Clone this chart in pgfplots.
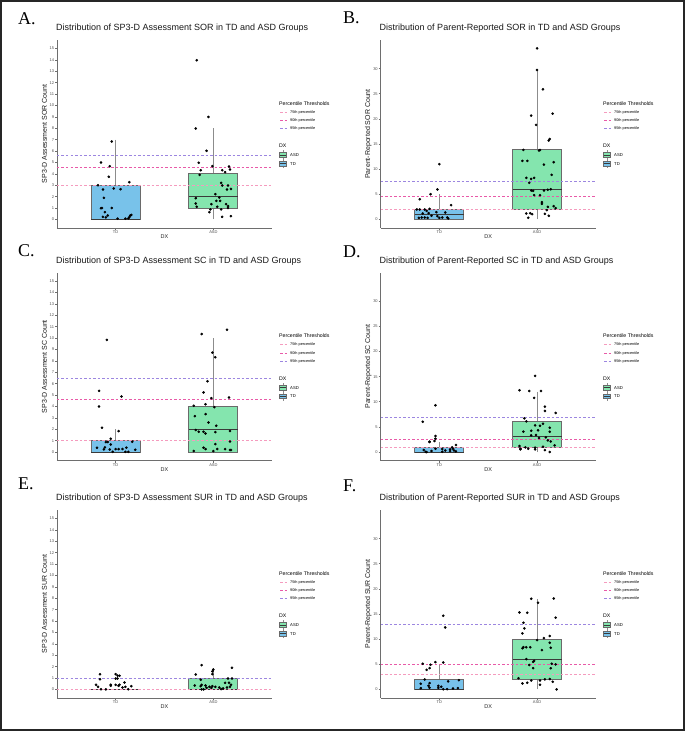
\documentclass[border=0pt]{standalone}
\usepackage{pgfplots}
\pgfplotsset{compat=1.18}
\usepgfplotslibrary{statistics}
\usepackage{fontspec}
\setmainfont{Liberation Sans}
\newfontfamily\letterfont{Liberation Serif}
\definecolor{tdblue}{HTML}{78C2EA}
\definecolor{asdgreen}{HTML}{84E5AE}
\definecolor{c75}{HTML}{F59BBE}
\definecolor{c90}{HTML}{E85AA8}
\definecolor{c95}{HTML}{9C86E0}
\definecolor{axgray}{HTML}{6E6E6E}
\definecolor{boxgray}{HTML}{6A6A6A}
\definecolor{whiskgray}{HTML}{8C8C8C}
\definecolor{medgray}{HTML}{3A3A3A}
\definecolor{tickgray}{HTML}{4D4D4D}
\tikzset{
  l75/.style={draw=c75, line width=0.8pt, dash pattern=on 2.5pt off 2pt},
  l90/.style={draw=c90, line width=0.8pt, dash pattern=on 2.5pt off 2pt},
  l95/.style={draw=c95, line width=0.8pt, dash pattern=on 2.5pt off 2pt},
}
\pgfplotsset{
  panel/.style={
    scale only axis, width=215pt, height=188pt, anchor=south west, clip=false,
    xmin=0.4, xmax=2.6,
    axis x line*=bottom, axis y line*=left,
    axis line style={draw=axgray, line width=0.9pt, -},
    xtick={1,2}, xticklabels={TD,ASD},
    major tick length=2pt, tick align=outside,
    every tick/.style={draw=axgray, line width=0.6pt},
    ticklabel style={font=\fontsize{4}{5}\selectfont, text=tickgray, inner sep=0.8pt},
    /pgf/number format/assume math mode=true,
    xlabel={DX},
    xlabel style={at={(axis description cs:0.5,0)}, anchor=center, yshift=-8.7pt, font=\fontsize{5.5}{6}\selectfont, text=black!85},
    ylabel style={at={(axis description cs:-0.058,0.5)}, anchor=center, font=\fontsize{7}{8}\selectfont, text=black!90},
    title style={at={(axis description cs:0,1)}, anchor=base west, xshift=-4.5pt, yshift=3.2pt, font=\fontsize{9}{10}\selectfont, text=black!90},
    boxplot/draw direction=y,
    boxplot/every box/.style={draw=boxgray, line width=0.9pt},
    boxplot/every whisker/.style={draw=whiskgray, line width=0.9pt},
    boxplot/every median/.style={draw=medgray, line width=1pt},
  },
  sp3/.style={ymin=-0.75, ymax=15.75, ytick={0,1,...,15}},
  par/.style={ymin=-1.7, ymax=35.7, ytick={0,5,...,30}},
  pts/.style={only marks, mark=*, mark size=1.1pt, mark options={draw=black, fill=black}},
  bx/.style={boxplot prepared={draw direction=y, box extend=0.5, whisker extend=0, #1}},
}
\newcommand\pctlegend[2]{%
  \begin{scope}[shift={(#1pt,#2pt)}]
    \node[anchor=west, inner sep=0, font=\fontsize{5.2}{6}\selectfont] at (0,-63.3) {Percentile Thresholds};
    \draw[l75] (1,-72.3) -- (8,-72.3);
    \draw[l90] (1,-80.7) -- (8,-80.7);
    \draw[l95] (1,-88.7) -- (8,-88.7);
    \node[anchor=west, inner sep=0, font=\fontsize{3.8}{4.5}\selectfont] at (11,-72.3) {75th percentile};
    \node[anchor=west, inner sep=0, font=\fontsize{3.8}{4.5}\selectfont] at (11,-80.7) {90th percentile};
    \node[anchor=west, inner sep=0, font=\fontsize{3.8}{4.5}\selectfont] at (11,-88.7) {95th percentile};
    \node[anchor=west, inner sep=0, font=\fontsize{5.2}{6}\selectfont] at (0,-105.7) {DX};
    \draw[whiskgray, line width=0.6pt] (3.8,-110.5) -- (3.8,-119.5);
    \filldraw[fill=asdgreen, draw=boxgray, line width=0.6pt] (0.5,-117.4) rectangle (7.1,-112.6);
    \draw[medgray, line width=0.6pt] (0.5,-115) -- (7.1,-115);
    \draw[whiskgray, line width=0.6pt] (3.8,-119.2) -- (3.8,-128.2);
    \filldraw[fill=tdblue, draw=boxgray, line width=0.6pt] (0.5,-126.1) rectangle (7.1,-121.3);
    \draw[medgray, line width=0.6pt] (0.5,-123.7) -- (7.1,-123.7);
    \node[anchor=west, inner sep=0, font=\fontsize{4.2}{5}\selectfont] at (11,-115) {ASD};
    \node[anchor=west, inner sep=0, font=\fontsize{4.2}{5}\selectfont] at (11,-123.7) {TD};
  \end{scope}}
\begin{document}
\begin{tikzpicture}[x=1pt,y=1pt]
\useasboundingbox (0,0) rectangle (685,731);
\fill[white] (0,0) rectangle (685,731);
\draw[line width=1.6pt, black!85] (0.8,0.8) rectangle (684.2,730.2);
\node[anchor=base west, font=\letterfont\fontsize{18}{18}\selectfont, inner sep=0] at (18,706) {A.};
\node[anchor=base west, font=\letterfont\fontsize{18}{18}\selectfont, inner sep=0] at (343,707) {B.};
\node[anchor=base west, font=\letterfont\fontsize{18}{18}\selectfont, inner sep=0] at (18,474) {C.};
\node[anchor=base west, font=\letterfont\fontsize{18}{18}\selectfont, inner sep=0] at (343,473.5) {D.};
\node[anchor=base west, font=\letterfont\fontsize{18}{18}\selectfont, inner sep=0] at (18,241) {E.};
\node[anchor=base west, font=\letterfont\fontsize{18}{18}\selectfont, inner sep=0] at (343,239) {F.};

% ---------- A ----------
\begin{axis}[panel, sp3, at={(57pt,503pt)},
  title={Distribution of SP3-D Assessment SOR in TD and ASD Groups},
  ylabel={SP3-D Assessment SOR Count}]
\addplot[bx={lower whisker=0, lower quartile=0, median=0, upper quartile=3, upper whisker=7, draw position=1}, fill=tdblue] coordinates {};
\addplot[bx={lower whisker=0, lower quartile=1, median=2, upper quartile=4, upper whisker=8, draw position=2}, fill=asdgreen] coordinates {};
\addplot[l75] coordinates {(0.4,3.0) (2.6,3.0)};
\addplot[l90] coordinates {(0.4,4.6) (2.6,4.6)};
\addplot[l95] coordinates {(0.4,5.6) (2.6,5.6)};
\addplot[pts] coordinates {(0.96,6.84) (0.85,5.0) (0.94,4.67) (0.93,3.74) (0.82,3.0) (1.14,3.27) (0.87,2.63) (0.98,2.72) (1.05,2.66) (0.88,1.9) (0.85,0.99) (0.86,1.0) (0.96,1.0) (0.89,0.64) (0.87,0.23) (0.90,0.18) (0.92,0.35) (1.02,0.07) (1.10,0.07) (1.14,0.2) (1.15,0.35) (1.16,0.4) (1.13,0.1)};
\addplot[pts] coordinates {(1.83,13.97) (1.95,9.0) (1.82,7.98) (1.93,6.02) (1.85,4.97) (1.99,4.68) (2.16,4.65) (1.87,4.32) (2.09,4.32) (2.12,4.15) (2.17,4.38) (1.86,3.91) (2.08,3.21) (2.09,2.98) (2.15,2.98) (2.14,2.63) (2.18,2.68) (2.02,2.22) (1.82,1.87) (2.06,1.93) (2.03,1.63) (2.07,1.63) (1.82,1.4) (1.83,1.11) (1.98,1.34) (2.04,1.11) (2.13,1.34) (2.15,1.17) (2.15,1.0) (1.97,0.88) (2.08,0.88) (1.96,0.64) (2.09,0.23) (2.18,0.29)};
\end{axis}
\pctlegend{279}{691}

% ---------- B ----------
\begin{axis}[panel, par, at={(380.7pt,503pt)},
  title={Distribution of Parent-Reported SOR in TD and ASD Groups},
  ylabel={Parent-Reported SOR Count}]
\addplot[bx={lower whisker=0, lower quartile=0, median=1, upper quartile=2, upper whisker=5, draw position=1}, fill=tdblue] coordinates {};
\addplot[bx={lower whisker=0, lower quartile=2, median=6, upper quartile=14, upper whisker=30, draw position=2}, fill=asdgreen] coordinates {};
\addplot[l75] coordinates {(0.4,2.0) (2.6,2.0)};
\addplot[l90] coordinates {(0.4,4.57) (2.6,4.57)};
\addplot[l95] coordinates {(0.4,7.55) (2.6,7.55)};
\addplot[pts] coordinates {(1.0,10.99) (0.98,5.96) (0.91,5.03) (0.80,4.03) (1.12,2.84) (0.80,1.98) (0.85,1.98) (0.87,1.71) (0.90,2.11) (0.83,1.19) (0.89,1.25) (0.97,1.45) (1.06,1.39) (0.82,0.39) (0.85,0.39) (0.88,0.32) (0.98,0.66) (1.0,0.32) (1.03,0.39) (1.08,0.39) (1.09,0.19) (0.79,0.32) (0.92,0.72) (0.77,1.98)};
\addplot[pts] coordinates {(2.0,34.04) (2.0,29.73) (2.06,25.89) (1.94,20.66) (2.16,21.05) (1.99,18.8) (2.13,16.0) (2.12,15.7) (1.86,13.83) (2.02,13.7) (2.03,13.8) (1.85,11.65) (1.90,11.65) (2.07,10.92) (2.17,11.39) (2.15,8.87) (1.89,8.27) (1.94,8.07) (1.97,8.27) (1.92,7.28) (1.94,5.76) (1.96,5.69) (2.07,5.76) (2.11,5.9) (2.14,6.0) (1.97,4.83) (2.03,4.83) (2.05,3.44) (2.05,3.1) (2.11,2.51) (2.17,2.64) (2.19,2.25) (2.10,1.85) (1.89,1.19) (1.93,1.25) (1.95,1.05) (2.08,1.12) (2.12,0.72) (1.91,0.32)};
\end{axis}
\pctlegend{603}{691}

% ---------- C ----------
\begin{axis}[panel, sp3, at={(57pt,270.4pt)},
  title={Distribution of SP3-D Assessment SC in TD and ASD Groups},
  ylabel={SP3-D Assessment SC Count}]
\addplot[bx={lower whisker=0, lower quartile=0, median=0, upper quartile=1, upper whisker=2, draw position=1}, fill=tdblue] coordinates {};
\addplot[bx={lower whisker=0, lower quartile=0, median=2, upper quartile=4, upper whisker=10, draw position=2}, fill=asdgreen] coordinates {};
\addplot[l75] coordinates {(0.4,1.0) (2.6,1.0)};
\addplot[l90] coordinates {(0.4,4.61) (2.6,4.61)};
\addplot[l95] coordinates {(0.4,6.5) (2.6,6.5)};
\addplot[pts] coordinates {(0.91,9.84) (0.83,5.37) (1.06,4.87) (0.83,4.0) (0.86,2.13) (1.03,1.84) (0.95,1.17) (0.90,0.88) (0.92,0.88) (1.17,0.9) (0.95,0.67) (0.81,0.38) (0.89,0.41) (0.88,0.23) (0.94,0.23) (1.0,0.26) (1.03,0.26) (1.07,0.26) (1.11,0.38) (1.20,0.2) (0.97,0.02) (1.10,0.02) (1.13,0.02)};
\addplot[pts] coordinates {(2.14,10.74) (1.88,10.36) (1.99,8.73) (2.02,8.32) (1.94,6.22) (1.90,5.23) (1.98,4.73) (2.16,4.79) (1.92,4.2) (1.80,4.06) (2.01,3.94) (1.81,3.15) (1.92,3.33) (1.95,2.6) (2.03,2.31) (1.82,1.93) (1.85,1.78) (1.90,1.78) (1.92,1.63) (2.02,1.75) (2.17,1.84) (2.17,0.93) (2.02,0.7) (1.90,0.38) (1.92,0.26) (2.12,0.26) (2.04,0.26) (2.0,0.09) (1.80,0.09) (2.17,0.18) (2.18,0.18)};
\end{axis}
\pctlegend{279}{458.4}

% ---------- D ----------
\begin{axis}[panel, par, at={(380.7pt,270.4pt)},
  title={Distribution of Parent-Reported SC in TD and ASD Groups},
  ylabel={Parent-Reported SC Count}]
\addplot[bx={lower whisker=0, lower quartile=0, median=0, upper quartile=1, upper whisker=2, draw position=1}, fill=tdblue] coordinates {};
\addplot[bx={lower whisker=0, lower quartile=1, median=3, upper quartile=6, upper whisker=12, draw position=2}, fill=asdgreen] coordinates {};
\addplot[l75] coordinates {(0.4,0.95) (2.6,0.95)};
\addplot[l90] coordinates {(0.4,2.5) (2.6,2.5)};
\addplot[l95] coordinates {(0.4,6.9) (2.6,6.9)};
\addplot[pts] coordinates {(0.96,9.3) (0.83,6.04) (0.96,3.19) (0.96,2.66) (0.95,2.2) (0.90,2.06) (1.17,1.39) (1.13,0.93) (0.96,0.66) (1.03,0.6) (1.11,0.53) (0.84,0.4) (1.15,0.33) (1.17,0.13) (1.11,0.2) (0.87,0.0) (1.03,0.07) (1.06,0.3) (0.92,0.2) (0.86,0.05) (1.14,0.66) (0.90,1.99)};
\addplot[pts] coordinates {(1.98,15.14) (1.82,12.28) (1.92,12.15) (2.04,12.15) (1.97,10.76) (2.08,9.03) (2.08,8.17) (2.19,7.77) (1.87,6.71) (1.89,6.11) (2.06,5.64) (1.98,5.31) (2.03,5.25) (2.13,4.85) (1.94,4.25) (2.01,4.32) (1.86,4.05) (2.13,4.05) (1.94,3.32) (1.99,3.39) (2.09,2.92) (2.02,2.79) (2.11,2.32) (2.14,2.12) (2.18,1.33) (1.82,1.2) (1.83,0.66) (1.88,0.93) (1.98,0.86) (2.06,1.06) (1.83,0.53) (1.91,0.66) (2.08,0.4) (2.13,0.0) (1.98,0.53)};
\end{axis}
\pctlegend{603}{458.4}

% ---------- E ----------
\begin{axis}[panel, sp3, at={(57pt,33pt)},
  title={Distribution of SP3-D Assessment SUR in TD and ASD Groups},
  ylabel={SP3-D Assessment SUR Count}]
\addplot[bx={lower whisker=0, lower quartile=0, median=0, upper quartile=0, upper whisker=0, draw position=1}, fill=tdblue] coordinates {};
\addplot[bx={lower whisker=0, lower quartile=0, median=0, upper quartile=1, upper whisker=1.85, draw position=2}, fill=asdgreen] coordinates {};
\addplot[l75] coordinates {(0.4,0) (2.6,0)};
\addplot[l90] coordinates {(0.4,1) (2.6,1)};
\addplot[l95] coordinates {(0.4,1) (2.6,1)};
\addplot[pts] coordinates {(0.84,1.34) (0.84,0.9) (0.80,0.41) (0.82,0.23) (0.85,0.02) (0.90,0.0) (0.95,0.41) (0.95,0.32) (1.0,1.34) (1.02,1.22) (1.04,1.2) (1.0,0.96) (1.02,0.96) (1.0,0.41) (1.03,0.32) (1.04,0.41) (1.09,0.61) (1.13,0.02) (1.16,0.29) (1.07,0.17) (1.10,0.23)};
\addplot[pts] coordinates {(1.88,2.13) (2.0,1.75) (1.99,1.58) (2.19,1.9) (1.82,1.31) (1.99,1.34) (2.15,0.96) (2.19,0.96) (1.87,0.85) (2.12,0.58) (2.16,0.58) (1.81,0.35) (1.87,0.29) (1.92,0.35) (1.88,0.41) (1.99,0.29) (2.02,0.23) (1.96,0.23) (2.18,0.41) (2.17,0.23) (1.93,0.14) (1.98,0.14) (2.06,0.17) (1.88,0.0) (1.90,0.0) (2.08,0.03) (2.10,0.09) (2.14,0.17)};
\end{axis}
\pctlegend{279}{221}

% ---------- F ----------
\begin{axis}[panel, par, at={(380.7pt,33pt)},
  title={Distribution of Parent-Reported SUR in TD and ASD Groups},
  ylabel={Parent-Reported SUR Count}]
\addplot[bx={lower whisker=0, lower quartile=0, median=0, upper quartile=2, upper whisker=5, draw position=1}, fill=tdblue] coordinates {};
\addplot[bx={lower whisker=0, lower quartile=2, median=6, upper quartile=10, upper whisker=18, draw position=2}, fill=asdgreen] coordinates {};
\addplot[l75] coordinates {(0.4,3.0) (2.6,3.0)};
\addplot[l90] coordinates {(0.4,5.0) (2.6,5.0)};
\addplot[l95] coordinates {(0.4,13.0) (2.6,13.0)};
\addplot[pts] coordinates {(1.04,14.67) (1.06,12.34) (0.96,5.44) (1.04,5.38) (0.83,5.11) (0.91,4.91) (0.90,4.25) (0.87,3.91) (0.85,1.99) (1.2,1.85) (1.09,1.59) (0.81,1.12) (0.90,1.26) (0.89,0.73) (0.99,0.73) (0.81,0.26) (0.99,0.33) (1.14,0.2) (0.90,0.33) (1.04,0.06) (1.08,0.06) (1.02,0.53) (1.19,0.26)};
\addplot[pts] coordinates {(1.94,18.05) (2.17,18.1) (2.01,17.26) (1.82,15.33) (1.90,15.27) (2.19,14.27) (1.86,13.27) (1.87,12.14) (1.85,11.15) (2.13,10.62) (2.07,10.22) (2.0,9.82) (2.13,9.29) (2.14,8.29) (1.85,8.2) (1.86,8.4) (1.89,8.4) (1.93,8.4) (2.05,7.83) (1.89,6.04) (1.97,5.7) (1.96,5.5) (2.15,5.11) (2.19,4.98) (1.92,4.85) (1.96,4.24) (2.14,4.24) (1.81,2.25) (1.85,1.19) (1.90,1.33) (1.94,1.79) (2.03,1.79) (2.08,1.99) (2.13,2.06) (2.16,1.52) (2.03,0.93) (2.2,0.0)};
\end{axis}
\pctlegend{603}{221}
\end{tikzpicture}
\end{document}
